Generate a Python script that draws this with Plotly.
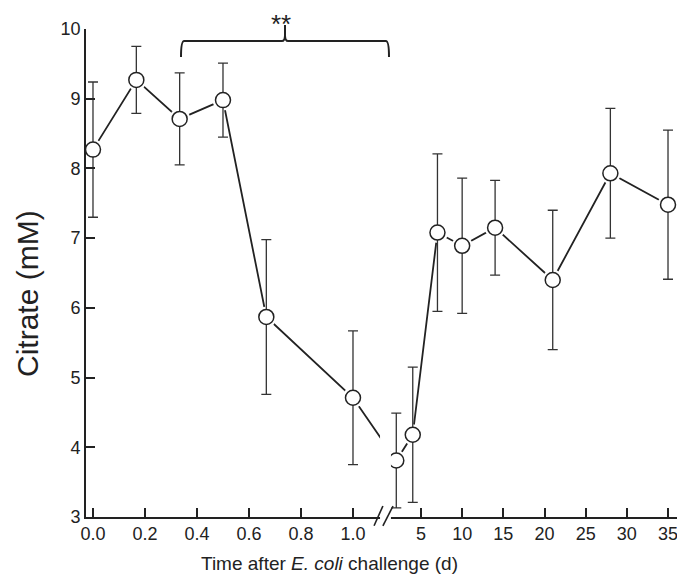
import plotly.graph_objects as go

# ---- data ----
early_days = [0.0, 1/6, 1/3, 0.5, 2/3, 1.0]
early_citrate = [8.27, 9.27, 8.71, 8.98, 5.87, 4.71]
early_sem = [0.97, 0.48, 0.66, 0.53, 1.11, 0.96]

late_days = [2, 4, 7, 10, 14, 21, 28, 35]
late_citrate = [3.81, 4.18, 7.08, 6.89, 7.15, 6.40, 7.93, 7.48]
late_sem = [0.68, 0.97, 1.13, 0.97, 0.68, 1.00, 0.93, 1.07]

early_ticks = [0.0, 0.2, 0.4, 0.6, 0.8, 1.0]
early_ticklabels = ["0.0", "0.2", "0.4", "0.6", "0.8", "1.0"]
late_ticks = [5, 10, 15, 20, 25, 30, 35]
late_ticklabels = ["5", "10", "15", "20", "25", "30", "35"]

x_title = "Time after <i>E. coli</i> challenge (d)"
y_title = "Citrate (mM)"

# ---- broken-axis mapping (display coordinate) ----
R_OFF, R_SCALE = 1.1032, 0.03167


def right_pos(t):
    return R_OFF + R_SCALE * t


xs = list(early_days) + [right_pos(t) for t in late_days]
ys = early_citrate + late_citrate
errs = early_sem + late_sem

INK = "#222222"
FONT = "Liberation Sans, Arial, Helvetica, sans-serif"

fig = go.Figure()
fig.add_trace(go.Scatter(x=xs, y=ys, mode="lines",
                         line=dict(color=INK, width=1.8), hoverinfo="skip"))
fig.add_trace(go.Scatter(x=xs, y=ys, mode="markers",
                         marker=dict(size=21, color="white", line=dict(width=0)),
                         hoverinfo="skip"))
fig.add_trace(go.Scatter(x=xs, y=ys, mode="markers",
                         marker=dict(size=1, color="rgba(0,0,0,0)"),
                         error_y=dict(type="data", array=errs, visible=True,
                                      color="#333333", thickness=1.3, width=5)))
fig.add_trace(go.Scatter(x=xs, y=ys, mode="markers",
                         marker=dict(size=15, color="white",
                                     line=dict(color=INK, width=1.5))))

tickvals = list(early_ticks) + [right_pos(t) for t in late_ticks]
ticktext = early_ticklabels + late_ticklabels

fig.update_layout(
    width=685, height=588,
    margin=dict(l=78, r=8, t=21, b=79),
    plot_bgcolor="white", paper_bgcolor="white",
    showlegend=False,
    font=dict(family=FONT, color=INK),
    xaxis=dict(range=[-0.0269, 2.277], tickvals=tickvals, ticktext=ticktext,
               automargin=False,
               showgrid=False, zeroline=False, showline=True, linecolor=INK,
               linewidth=1.6, ticks="inside", ticklen=9, tickwidth=1.5,
               tickcolor=INK, tickfont=dict(size=18, color=INK)),
    yaxis=dict(range=[3, 10], tickvals=[3, 4, 5, 6, 7, 8, 9, 10],
               automargin=False,
               showgrid=False, zeroline=False, showline=True, linecolor=INK,
               linewidth=1.6, ticks="inside", ticklen=9, tickwidth=1.5,
               tickcolor=INK, tickfont=dict(size=18, color=INK)),
)

# axis titles
fig.add_annotation(x=0.407, y=-0.0943, xref="paper", yref="paper",
                   text=x_title, showarrow=False, yanchor="middle",
                   xanchor="center", font=dict(size=19, color=INK))
fig.add_annotation(x=-0.0968, y=0.457, xref="paper", yref="paper",
                   text=y_title, showarrow=False, textangle=-90,
                   xanchor="center", yanchor="middle",
                   font=dict(size=30, color=INK))

# gap of the broken axis
fig.add_shape(type="rect", xref="x", yref="paper", x0=1.104, x1=1.146,
              y0=-0.012, y1=0.9, fillcolor="white", line=dict(width=0),
              layer="above")
for x0, x1 in [(1.081, 1.115), (1.115, 1.154)]:
    fig.add_shape(type="line", xref="x", yref="paper", x0=x0, x1=x1,
                  y0=-0.018, y1=0.0225, line=dict(color=INK, width=1.6),
                  layer="above")

# significance brace
L, C, Rr = 0.3385, 0.7385, 1.1385
yb, yt, yc = 0.9426, 0.9754, 1.008
dx, dy = 0.012, 0.012
path = (f"M {L},{yb} Q {L},{yt} {L+dx},{yt} L {C-dx},{yt} "
        f"Q {C},{yt} {C},{yt+dy} L {C},{yc} L {C},{yt+dy} "
        f"Q {C},{yt} {C+dx},{yt} L {Rr-dx},{yt} Q {Rr},{yt} {Rr},{yb}")
fig.add_shape(type="path", xref="x", yref="paper", path=path,
              line=dict(color=INK, width=2), layer="above")
fig.add_annotation(x=0.723, y=1.043, xref="x", yref="paper", text="**",
                   showarrow=False, font=dict(size=26, color=INK),
                   yanchor="top", borderpad=0)

fig.write_html("out.html")
